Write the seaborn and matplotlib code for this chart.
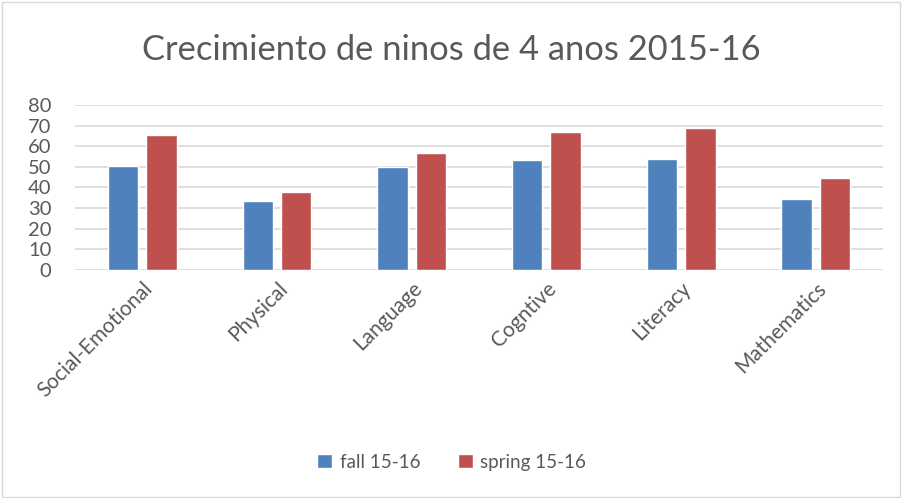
import pandas as pd
import seaborn as sns
import matplotlib.pyplot as plt
from matplotlib.patches import Rectangle

# Datos del grafico
categorias = ['Social-Emotional', 'Physical', 'Language', 'Cogntive', 'Literacy', 'Mathematics']
fall = [50.6, 33.4, 50.1, 53.3, 53.6, 34.4]
spring = [65.4, 38.0, 56.5, 67.0, 69.1, 44.6]
series = ['fall 15-16', 'spring 15-16']
colores = ['#4F81BD', '#C0504D']

df = pd.DataFrame({
    'categoria': categorias * 2,
    'valor': fall + spring,
    'serie': [series[0]] * len(categorias) + [series[1]] * len(categorias),
})

sns.set_theme(style='white')
plt.rcParams['font.family'] = ['Lato', 'DejaVu Sans']
texto = '#595959'

fig = plt.figure(figsize=(9.03, 4.98), dpi=100)
ax = fig.add_axes([0.083, 0.458, 0.895, 0.331])

sns.barplot(data=df, x='categoria', y='valor', hue='serie', order=categorias,
            hue_order=series, palette=colores, saturation=1, width=0.572, gap=0.21,
            ax=ax, legend=True)

ax.set_ylim(0, 80)
ax.set_yticks(range(0, 81, 10))
ax.set_xlim(-0.5, 5.5)
ax.yaxis.grid(True, color='#d9d9d9', linewidth=1.2)
ax.set_axisbelow(True)
for s in ax.spines.values():
    s.set_visible(False)
ax.set_xlabel('')
ax.set_ylabel('')
ax.tick_params(axis='y', labelsize=14.5, labelcolor=texto, length=0, pad=17)
ax.tick_params(axis='x', labelsize=15, labelcolor=texto, length=0, pad=6)
plt.setp(ax.get_xticklabels(), rotation=45, ha='right', rotation_mode='anchor')

fig.suptitle('Crecimiento de ninos de 4 anos 2015-16', x=0.5, y=0.9, va='center',
             fontsize=24.8, color=texto)

ax.legend(loc='center', bbox_to_anchor=(0.5, 0.072), bbox_transform=fig.transFigure,
          ncol=2, frameon=False, fontsize=13.5, labelcolor=texto,
          handlelength=0.8, handleheight=0.8, handletextpad=0.4, columnspacing=2.0)

# borde del grafico
fig.patches.append(Rectangle((0.002, 0.003), 0.995, 0.993, transform=fig.transFigure,
                             fill=False, edgecolor='#d9d9d9', linewidth=1))

fig.savefig('out.png', dpi=100)
